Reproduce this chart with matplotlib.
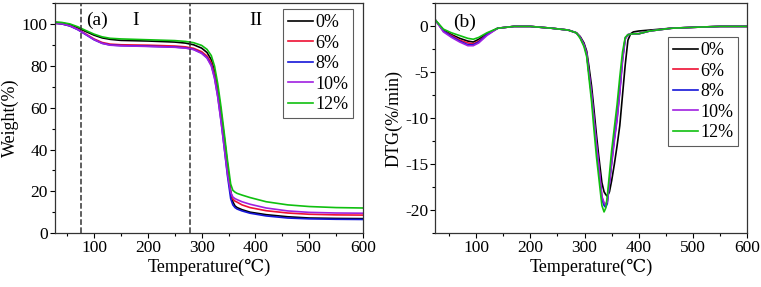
import numpy as np
import matplotlib
matplotlib.use("Agg")
import matplotlib.pyplot as plt
from matplotlib.ticker import MultipleLocator

plt.rcParams['font.family'] = ['Liberation Serif', 'DejaVu Serif']
plt.rcParams['axes.unicode_minus'] = False

labels = ['0%', '6%', '8%', '10%', '12%']
colors = ['black', '#ee1133', '#1515d8', '#a020e0', '#10c010']

# TGA (a)
t_tg = np.array([27, 40, 55, 70, 85, 100, 115, 130, 150, 200, 250, 270, 285, 300, 310, 318,
                 324, 330, 336, 342, 348, 354, 358, 362, 366, 375, 390, 420, 460, 500, 550, 600])
w_0 = np.array([101, 100.7, 99.8, 98.3, 96.5, 94.8, 93.5, 92.8, 92.3, 92.0, 91.5, 91.0, 90.2, 88.6, 86.5, 83.0,
                77.5, 69.0, 58.0, 46.0, 33.0, 20.0, 15.0, 13.0, 12.2, 11.2, 10.0, 8.8, 7.8, 7.2, 7.0, 6.9])
w_6 = np.array([100.5, 100.2, 99.3, 97.6, 95.3, 93.0, 91.3, 90.5, 90.2, 90.0, 89.6, 89.2, 88.5, 86.9, 84.8, 81.5,
                76.0, 67.5, 56.5, 44.0, 30.5, 19.0, 16.3, 15.3, 14.8, 13.5, 12.2, 10.7, 9.6, 9.0, 8.7, 8.6])
w_8 = np.array([100.5, 100.2, 99.2, 97.4, 95.0, 92.6, 90.9, 90.1, 89.8, 89.5, 89.1, 88.7, 88.0, 86.2, 84.0, 80.5,
                74.5, 65.5, 54.0, 41.0, 27.5, 16.5, 13.5, 12.2, 11.5, 10.6, 9.5, 8.2, 7.2, 6.8, 6.6, 6.5])
w_10 = np.array([100.6, 100.3, 99.3, 97.5, 95.1, 92.7, 90.9, 90.0, 89.7, 89.4, 89.0, 88.6, 87.9, 86.1, 83.8, 80.0,
                 74.0, 65.0, 53.5, 41.0, 28.5, 19.5, 17.3, 16.5, 16.0, 15.0, 13.8, 12.0, 10.6, 9.9, 9.6, 9.5])
w_12 = np.array([101, 100.9, 100.2, 98.8, 97.0, 95.3, 94.0, 93.3, 93.0, 92.6, 92.2, 91.8, 91.2, 89.9, 88.0, 85.0,
                 80.0, 71.5, 60.5, 48.0, 35.0, 23.5, 20.5, 19.6, 19.0, 18.2, 17.0, 15.0, 13.5, 12.7, 12.2, 12.0])
tg_series = [w_0, w_6, w_8, w_10, w_12]

# DTG (b)
t_dtg = np.array([25, 40, 55, 70, 85, 95, 105, 120, 140, 170, 200, 240, 270, 285, 292, 299, 304, 308, 313, 317,
                  322, 326, 332, 336, 339, 342, 346, 350, 355, 360, 365, 370, 375, 380, 385, 390, 400, 420, 460,
                  500, 550, 600])
d_0 = np.array([0.7, -0.4, -0.9, -1.3, -1.6, -1.7, -1.4, -0.8, -0.2, 0.0, 0.0, -0.2, -0.4, -0.7, -1.1, -1.8, -2.7,
                -4.3, -6.5, -8.8, -11.8, -14.0, -17.0, -18.0, -18.3, -18.5, -18.0, -16.8, -15.0, -13.0, -10.8, -7.5,
                -4.2, -1.5, -0.8, -0.6, -0.5, -0.4, -0.2, -0.1, 0.0, 0.0])
d_6 = np.array([0.7, -0.5, -1.0, -1.5, -1.8, -1.9, -1.6, -0.9, -0.2, 0.0, 0.0, -0.2, -0.4, -0.7, -1.2, -2.0, -3.0,
                -5.0, -7.5, -10.0, -13.0, -15.0, -18.6, -19.3, -19.4, -19.0, -16.8, -14.6, -12.0, -9.8, -6.8, -3.5,
                -1.3, -0.9, -0.85, -0.8, -0.8, -0.5, -0.2, -0.1, 0.0, 0.0])
d_8 = np.array([0.7, -0.5, -1.1, -1.6, -2.0, -2.0, -1.7, -0.9, -0.2, 0.0, 0.0, -0.2, -0.4, -0.7, -1.2, -2.0, -3.0,
                -5.0, -7.5, -10.0, -13.0, -15.2, -18.8, -19.5, -19.7, -19.3, -17.0, -14.8, -12.2, -10.0, -7.0, -3.6,
                -1.3, -0.9, -0.85, -0.8, -0.8, -0.5, -0.2, -0.1, 0.0, 0.0])
d_10 = np.array([0.7, -0.6, -1.2, -1.7, -2.1, -2.1, -1.8, -1.0, -0.2, 0.0, 0.0, -0.2, -0.4, -0.7, -1.2, -2.0, -3.0,
                 -5.0, -7.4, -9.8, -12.8, -15.0, -18.5, -19.2, -19.4, -19.1, -17.0, -15.0, -12.5, -10.2, -7.2, -3.8,
                 -1.4, -0.9, -0.85, -0.8, -0.8, -0.5, -0.2, -0.1, 0.0, 0.0])
d_12 = np.array([0.7, -0.3, -0.7, -1.0, -1.3, -1.4, -1.2, -0.7, -0.2, 0.0, 0.0, -0.2, -0.4, -0.7, -1.3, -2.2, -3.3,
                 -5.5, -8.2, -11.0, -14.2, -16.3, -19.5, -20.2, -19.8, -18.5, -16.0, -13.5, -11.0, -8.5, -5.5, -2.8,
                 -1.2, -0.9, -0.85, -0.8, -0.8, -0.5, -0.2, -0.1, 0.0, 0.0])
dtg_series = [d_0, d_6, d_8, d_10, d_12]

fig = plt.figure(figsize=(7.61, 2.87), dpi=100)
ax1 = fig.add_axes([0.072, 0.188, 0.405, 0.80])
ax2 = fig.add_axes([0.572, 0.188, 0.410, 0.80])

for y, c, lab in zip(tg_series, colors, labels):
    ax1.plot(t_tg, y, color=c, lw=1.2, label=lab)
for y, c, lab in zip(dtg_series, colors, labels):
    ax2.plot(t_dtg, y, color=c, lw=1.2, label=lab)

ax1.axvline(75, color='#333333', ls='--', lw=1.1)
ax1.axvline(278, color='#333333', ls='--', lw=1.1)
ax1.text(86, 102, '(a)', fontsize=14, ha='left', va='center')
ax1.text(178, 102, 'I', fontsize=14, ha='center', va='center')
ax1.text(400, 102, 'II', fontsize=14, ha='center', va='center')
ax2.text(57, 0.4, '(b)', fontsize=14, ha='left', va='center')

leg_kw = dict(fontsize=13, frameon=True, fancybox=False, edgecolor='#333333', handlelength=1.4,
              handletextpad=0.15, borderpad=0.25, labelspacing=0.2, borderaxespad=0.0)

ax1.set_xlim(27, 600)
ax1.set_ylim(0, 110)
ax1.set_ylabel('Weight(%)', fontsize=13, labelpad=2)
ax1.yaxis.set_major_locator(MultipleLocator(20))
ax1.yaxis.set_minor_locator(MultipleLocator(10))
lg = ax1.legend(loc='upper right', bbox_to_anchor=(0.968, 0.974), **leg_kw)
lg.get_frame().set_linewidth(0.8)

ax2.set_xlim(25, 600)
ax2.set_ylim(-22.5, 2.5)
ax2.set_ylabel('DTG(%/min)', fontsize=13, labelpad=2)
ax2.yaxis.set_major_locator(MultipleLocator(5))
ax2.yaxis.set_minor_locator(MultipleLocator(2.5))
lg = ax2.legend(loc='upper right', bbox_to_anchor=(0.971, 0.852), **leg_kw)
lg.get_frame().set_linewidth(0.8)

for ax in (ax1, ax2):
    ax.set_xlabel('Temperature(\u2103)', fontsize=13, labelpad=2)
    ax.xaxis.set_major_locator(MultipleLocator(100))
    ax.xaxis.set_minor_locator(MultipleLocator(50))
    ax.tick_params(axis='both', which='major', labelsize=12.5, direction='out', length=3.5, width=0.8, pad=1.5)
    ax.tick_params(axis='both', which='minor', direction='out', length=2, width=0.8)
    for s in ax.spines.values():
        s.set_linewidth(0.9)
        s.set_color('#333333')

fig.savefig('out.png', dpi=100)
